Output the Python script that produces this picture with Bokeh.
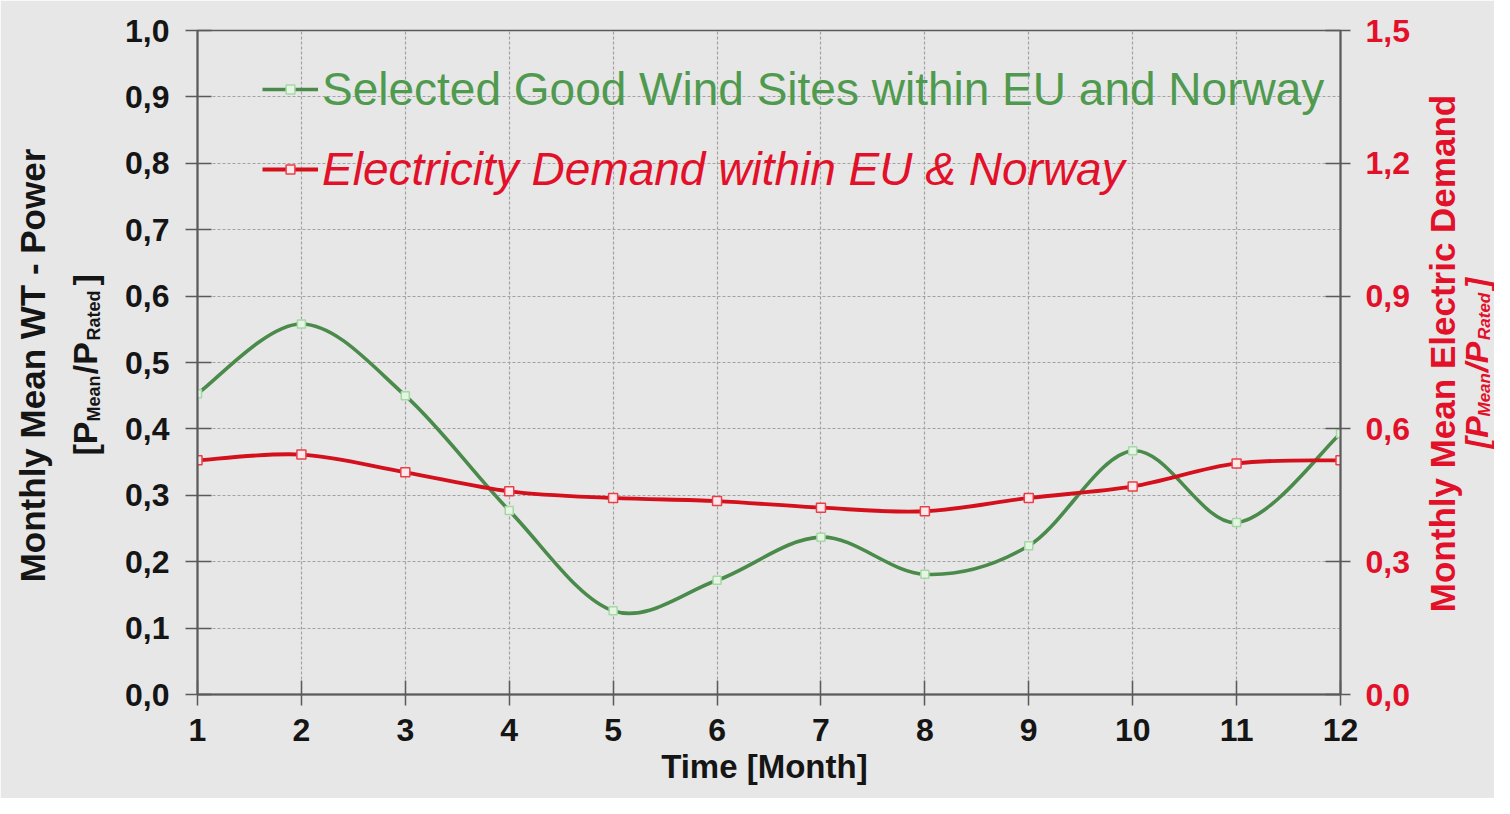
import numpy as np
from bokeh.plotting import figure
from bokeh.models import (Range1d, LinearAxis, FixedTicker, CustomJSTickFormatter,
                          Legend, LegendItem, Label)
from bokeh.embed import file_html
from bokeh.resources import INLINE

# ---------------- data ----------------
months = [1, 2, 3, 4, 5, 6, 7, 8, 9, 10, 11, 12]
wind_power = [0.453, 0.558, 0.450, 0.277, 0.126, 0.172, 0.237, 0.181, 0.224, 0.367, 0.259, 0.393]
demand = [0.529, 0.542, 0.502, 0.459, 0.444, 0.437, 0.422, 0.414, 0.444, 0.470, 0.522, 0.529]
left_ticks = [0.0, 0.1, 0.2, 0.3, 0.4, 0.5, 0.6, 0.7, 0.8, 0.9, 1.0]
right_ticks = [0.0, 0.3, 0.6, 0.9, 1.2, 1.5]
wind_label = "Selected Good Wind Sites within EU and Norway"
demand_label = "Electricity Demand within EU & Norway"
x_title = "Time  [Month]"
left_title = "Monthly Mean WT - Power"
right_title = "Monthly Mean Electric Demand"

FONT = "Liberation Sans"
BG = "#e7e7e7"
GREEN_LINE = "#4a8a4a"
GREEN_TEXT = "#4f9a4f"
RED_LINE = "#d3101c"
RED_TEXT = "#e3102a"
NB = "\u00a0"

# frame placement (canvas pixels)
FL, FR, FT, FB = 197, 1340, 30, 694
W, H = 1494, 798


def smooth_controls(xs, ys):
    """Cardinal-spline control points (Excel-like smoothing) for the Bezier glyph."""
    x = np.asarray(xs, float)
    y = np.asarray(ys, float)
    xp = np.concatenate([[x[0]], x, [x[-1]]])
    yp = np.concatenate([[y[0]], y, [y[-1]]])
    i = np.arange(len(x) - 1)
    return dict(
        x0=x[i], y0=y[i], x1=x[i + 1], y1=y[i + 1],
        cx0=x[i] + (xp[i + 2] - xp[i]) / 6.0, cy0=y[i] + (yp[i + 2] - yp[i]) / 6.0,
        cx1=x[i + 1] - (xp[i + 3] - xp[i + 1]) / 6.0, cy1=y[i + 1] - (yp[i + 3] - yp[i + 1]) / 6.0,
    )


p = figure(width=W, height=H, x_range=Range1d(months[0], months[-1]),
           y_range=Range1d(left_ticks[0], left_ticks[-1]),
           output_backend="svg", toolbar_location=None,
           min_border_left=FL, min_border_right=W - FR, min_border_top=FT, min_border_bottom=H - FB,
           background_fill_color=BG, border_fill_color=BG,
           outline_line_color="#5a5a5a", outline_line_width=1.5)

p.extra_y_ranges = {"demand": Range1d(right_ticks[0], right_ticks[-1])}

# grid
for g in (p.xgrid, p.ygrid):
    g.grid_line_color = "#a2a2a2"
    g.grid_line_dash = "3 2"
    g.grid_line_width = 1.2
p.ygrid.ticker = FixedTicker(ticks=left_ticks)
p.xgrid.ticker = FixedTicker(ticks=months)

fmt = CustomJSTickFormatter(code="return tick.toFixed(1).replace('.', ',');")

# x axis
xa = p.xaxis[0]
xa.ticker = FixedTicker(ticks=months)
xa.axis_label = x_title
xa.axis_label_text_font = FONT
xa.axis_label_text_font_size = "33px"
xa.axis_label_text_font_style = "bold"
xa.axis_label_text_color = "#151515"
xa.axis_label_standoff = 4
xa.major_label_text_font = FONT
xa.major_label_text_font_size = "32px"
xa.major_label_text_font_style = "bold"
xa.major_label_text_color = "#151515"
xa.major_label_standoff = 13
xa.major_tick_in = 14
xa.major_tick_out = 11
xa.minor_tick_line_color = None
xa.axis_line_color = "#5a5a5a"
xa.axis_line_width = 2
xa.major_tick_line_color = "#5a5a5a"
xa.major_tick_line_width = 1.5

# left axis
ya = p.yaxis[0]
ya.ticker = FixedTicker(ticks=left_ticks)
ya.formatter = fmt
ya.major_label_text_font = FONT
ya.major_label_text_font_size = "32px"
ya.major_label_text_font_style = "bold"
ya.major_label_text_color = "#151515"
ya.major_label_standoff = 16
ya.major_tick_in = 14
ya.major_tick_out = 12
ya.minor_tick_line_color = None
ya.axis_line_color = "#5a5a5a"
ya.axis_line_width = 2
ya.major_tick_line_color = "#5a5a5a"
ya.major_tick_line_width = 1.5

# right axis
ra = LinearAxis(y_range_name="demand", ticker=FixedTicker(ticks=right_ticks), formatter=fmt,
                major_label_text_font=FONT, major_label_text_font_size="32px",
                major_label_text_font_style="bold", major_label_text_color=RED_TEXT,
                major_label_standoff=15, major_tick_in=15, major_tick_out=10,
                minor_tick_line_color=None, axis_line_color="#5a5a5a", axis_line_width=2,
                major_tick_line_color="#5a5a5a", major_tick_line_width=1.5)
p.add_layout(ra, "right")

# series
wind_curve = p.bezier(line_color=GREEN_LINE, line_width=3.6, **smooth_controls(months, wind_power))
wind_pts = p.scatter(months, wind_power, marker="square", size=8, fill_color="#e4f5e4",
                     line_color="#a6d8a6", line_width=1.5)
dem_curve = p.bezier(line_color=RED_LINE, line_width=3.8, y_range_name="demand",
                     **smooth_controls(months, demand))
dem_pts = p.scatter(months, demand, marker="square", size=9, fill_color="#ffe8ea",
                    line_color="#e8404a", line_width=1.5, y_range_name="demand")

# legends (no box)
common = dict(label_text_font=FONT, label_text_font_size="46px", glyph_width=56, glyph_height=22,
              label_standoff=4, padding=0, margin=0, spacing=0, background_fill_alpha=0,
              border_line_alpha=0, label_text_baseline="middle")
leg_w = Legend(items=[LegendItem(label=wind_label, renderers=[wind_curve, wind_pts])],
               location=(65, 578), label_text_color=GREEN_TEXT, **common)
leg_d = Legend(items=[LegendItem(label=demand_label, renderers=[dem_curve, dem_pts])],
               location=(65, 498), label_text_color=RED_TEXT, label_text_font_style="italic", **common)
p.add_layout(leg_w)
p.add_layout(leg_d)


def vlabel(text, x, y, size, color, style, align, side):
    """Rotated (bottom-to-top) text in canvas pixels, kept in a side panel so it is not clipped."""
    p.add_layout(Label(x=x, y=y, x_units="canvas", y_units="canvas", text=text, angle=np.pi / 2,
                       text_align=align, text_baseline="middle", text_font=FONT,
                       text_font_size=f"{size}px", text_font_style=style, text_color=color), side)


# axis titles
vlabel(left_title, 32, 365, 35, "#151515", "bold", "center", "left")
vlabel(right_title, 1442, 353, 35, RED_TEXT, "bold", "center", "right")

# second title lines: [P_Mean/P_Rated]  (main glyphs + subscripts as two aligned texts)
vlabel("[P" + NB * 5 + "/P" + NB * 6 + "]", 84, 455, 34, "#151515", "bold", "left", "left")
vlabel("Mean" + NB * 7 + "Rated", 93, 455 - 34, 18, "#151515", "bold", "left", "right")
vlabel("[P" + NB * 5 + "/P" + NB * 6 + "]", 1476, 448, 32, RED_TEXT, "bold italic", "left", "left")
vlabel("Mean" + NB * 7 + "Rated", 1484, 448 - 32, 17, RED_TEXT, "bold italic", "left", "right")

open("out.html", "w").write(file_html(p, INLINE))
